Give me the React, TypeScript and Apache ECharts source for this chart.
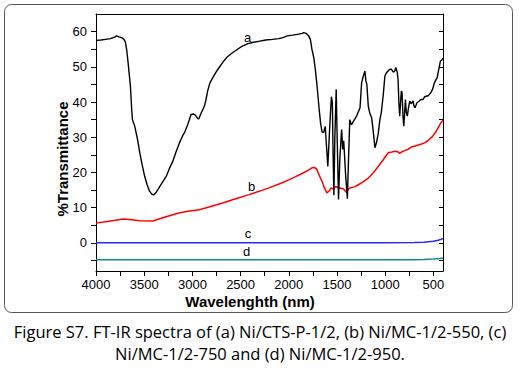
import React, { useEffect, useRef } from "react";
import * as echarts from "echarts";

// wavenumber (cm-1) / %Transmittance pairs
const curveA: [number, number][] = [
  [4000, 57.5], [3950, 57.6], [3900, 57.8], [3850, 58.0], [3800, 58.5], [3787, 58.8], [3760, 58.5],
  [3730, 58.2], [3710, 57.8], [3695, 57.0], [3680, 54.5], [3667, 51.2], [3643, 44.5], [3630, 38.0],
  [3622, 35.0], [3598, 33.1], [3570, 29.5], [3546, 25.6], [3520, 22.0], [3495, 18.9], [3470, 16.5],
  [3443, 14.6], [3420, 13.8], [3402, 13.6], [3380, 14.2], [3358, 15.1], [3320, 16.8], [3271, 18.9],
  [3240, 21.0], [3203, 23.2], [3170, 25.8], [3134, 28.4], [3100, 30.5], [3082, 31.3], [3048, 33.6],
  [3013, 36.5], [2990, 36.6], [2969, 36.3], [2945, 35.3], [2934, 35.2], [2910, 36.8], [2876, 38.8],
  [2860, 40.5], [2842, 43.1], [2820, 45.3], [2807, 46.0], [2760, 48.3], [2722, 49.8], [2687, 51.2],
  [2640, 52.8], [2584, 54.0], [2530, 55.0], [2481, 55.9], [2430, 56.5], [2378, 56.9], [2300, 57.3],
  [2240, 57.6], [2170, 57.8], [2103, 58.0], [2060, 58.3], [2017, 58.8], [1960, 59.0], [1897, 59.3],
  [1860, 59.5], [1845, 59.7], [1820, 59.5], [1794, 58.8], [1776, 57.8], [1760, 55.0], [1740, 52.5],
  [1725, 49.3], [1710, 45.5], [1698, 42.0], [1685, 38.0], [1670, 34.0], [1655, 31.5], [1639, 31.3],
  [1622, 33.1], [1595, 21.7], [1575, 33.0], [1558, 41.5], [1548, 40.0], [1540, 25.0], [1532, 13.5],
  [1522, 30.0], [1508, 43.6], [1498, 30.0], [1484, 12.3], [1470, 24.0], [1452, 32.2], [1440, 26.5],
  [1430, 29.0], [1412, 20.0], [1392, 12.5], [1380, 24.0], [1367, 35.0], [1350, 33.5], [1330, 34.5],
  [1296, 36.0], [1261, 38.4], [1244, 45.5], [1225, 47.5], [1210, 48.8], [1200, 46.0], [1190, 45.0],
  [1175, 38.8], [1160, 36.9], [1140, 35.5], [1125, 32.0], [1106, 27.0], [1090, 28.5], [1072, 31.0],
  [1055, 35.0], [1040, 37.0], [1020, 42.0], [1003, 47.4], [986, 48.3], [970, 48.8], [952, 49.3],
  [935, 49.3], [915, 48.5], [900, 48.8], [890, 49.8], [883, 49.8], [875, 48.5], [866, 46.4],
  [858, 40.0], [849, 36.0], [840, 40.0], [832, 43.1], [825, 42.6], [815, 36.0], [807, 33.1],
  [800, 36.0], [790, 40.7], [780, 36.9], [770, 36.0], [760, 38.0], [745, 40.3], [730, 39.5],
  [711, 40.3], [700, 38.8], [690, 38.4], [670, 39.8], [650, 40.2], [630, 40.7], [608, 40.7],
  [590, 41.5], [573, 41.7], [557, 41.7], [530, 42.5], [510, 43.5], [488, 45.5], [460, 47.0],
  [437, 50.2], [427, 51.6], [410, 52.0], [400, 52.5],
];

const curveB: [number, number][] = [
  [4000, 5.6], [3900, 6.0], [3800, 6.4], [3718, 6.75], [3650, 6.6], [3550, 6.3], [3409, 6.2],
  [3300, 7.2], [3150, 8.4], [3050, 9.0], [2928, 9.4], [2800, 10.4], [2687, 11.3], [2550, 12.5],
  [2412, 13.7], [2300, 14.7], [2206, 15.6], [2100, 16.7], [2000, 17.9], [1930, 18.8], [1862, 19.7],
  [1800, 20.6], [1760, 21.3], [1730, 21.4], [1708, 20.8], [1690, 19.5], [1656, 17.5], [1630, 15.6],
  [1605, 14.2], [1580, 14.8], [1560, 15.6], [1535, 15.3], [1515, 16.0], [1490, 15.7], [1460, 15.5],
  [1430, 15.3], [1410, 14.6], [1399, 14.3], [1380, 15.3], [1365, 15.6], [1320, 15.9], [1278, 16.5],
  [1230, 17.3], [1175, 18.4], [1120, 20.0], [1072, 21.7], [1020, 23.6], [969, 25.6], [930, 25.8],
  [900, 26.0], [870, 25.9], [849, 25.4], [830, 25.8], [800, 26.2], [760, 26.6], [729, 27.2],
  [680, 27.6], [630, 28.0], [591, 28.4], [550, 29.2], [506, 30.3], [470, 31.7], [440, 33.2],
  [427, 33.9], [400, 34.8],
];

const curveC: [number, number][] = [
  [4000, 0.05], [3000, 0.05], [2000, 0.05], [1000, 0.05], [700, 0.08], [600, 0.15], [500, 0.45],
  [450, 0.75], [420, 1.0], [400, 1.2],
];

const curveD: [number, number][] = [
  [4000, -4.8], [3000, -4.8], [2000, -4.8], [1000, -4.8], [700, -4.78], [600, -4.75], [500, -4.6],
  [430, -4.45], [400, -4.3],
];

const xLabelValues = [500, 1000, 1500, 2000, 2500, 3000, 3500, 4000];
const xTickValues = [500, 750, 1000, 1250, 1500, 1750, 2000, 2250, 2500, 2750, 3000, 3250, 3500, 3750, 4000];
const yLabelValues = [0, 10, 20, 30, 40, 50, 60];
const yTickValues = [-5, 0, 5, 10, 15, 20, 25, 30, 35, 40, 45, 50, 55, 60];

const seriesNames = ["a", "b", "c", "d"];
const seriesColors = ["#000000", "#ff0000", "#2a2af0", "#138a8a"];

const captionLines = [
  "Figure S7. FT-IR spectra of (a) Ni/CTS-P-1/2, (b) Ni/MC-1/2-550, (c)",
  "Ni/MC-1/2-750 and (d) Ni/MC-1/2-950.",
];

const FONT = "'Liberation Sans', Arial, sans-serif";

export default function App() {
  const ref = useRef<HTMLDivElement>(null);
  useEffect(() => {
    if (!ref.current) return;
    const chart = echarts.init(ref.current, null, { renderer: "svg" });
    const axisCommon = {
      type: "value" as const,
      min: 400,
      max: 4000,
      inverse: true,
      splitLine: { show: false },
    };
    const yCommon = {
      type: "value" as const,
      min: -8,
      max: 65,
      splitLine: { show: false },
    };
    const datas = [curveA, curveB, curveC, curveD];
    chart.setOption({
      animation: false,
      backgroundColor: "#ffffff",
      grid: { left: 96, right: 77, top: 14, bottom: 100, containLabel: false },
      xAxis: [
        {
          ...axisCommon,
          position: "bottom",
          axisLine: { show: true, onZero: false, lineStyle: { color: "#000", width: 1 } },
          axisTick: { show: true, customValues: xTickValues, length: 5, lineStyle: { color: "#000" } },
          axisLabel: {
            show: true,
            customValues: xLabelValues,
            formatter: (v: number) => String(v),
            fontSize: 13,
            color: "#000",
            fontFamily: FONT,
            margin: 7,
          },
        },
        {
          ...axisCommon,
          position: "top",
          axisLine: { show: true, onZero: false, lineStyle: { color: "#000", width: 1 } },
          axisTick: { show: false },
          axisLabel: { show: false },
        },
      ],
      yAxis: [
        {
          ...yCommon,
          position: "left",
          axisLine: { show: true, onZero: false, lineStyle: { color: "#000", width: 1 } },
          axisTick: { show: true, customValues: yTickValues, length: 5, lineStyle: { color: "#000" } },
          axisLabel: {
            show: true,
            customValues: yLabelValues,
            formatter: (v: number) => String(v),
            fontSize: 13,
            color: "#000",
            fontFamily: FONT,
            margin: 9,
          },
        },
        {
          ...yCommon,
          position: "right",
          axisLine: { show: true, onZero: false, lineStyle: { color: "#000", width: 1 } },
          axisTick: { show: true, inside: true, customValues: yTickValues, length: 4, lineStyle: { color: "#000" } },
          axisLabel: { show: false },
        },
      ],
      series: datas.map((d, i) => ({
        name: seriesNames[i],
        type: "line",
        xAxisIndex: 0,
        yAxisIndex: 0,
        data: d,
        showSymbol: false,
        symbol: "none",
        smooth: false,
        lineStyle: { color: seriesColors[i], width: i === 0 ? 1.4 : 1.5 },
        z: 4 - i,
      })),
      graphic: [
        {
          type: "rect",
          shape: { x: 4.5, y: 4.5, width: 508, height: 308, r: 7 },
          style: { fill: "none", stroke: "#555", lineWidth: 1 },
          silent: true,
          z: -1,
        },
        {
          type: "text",
          x: 62,
          y: 159,
          rotation: Math.PI / 2,
          style: {
            text: "%Transmittance",
            font: `bold 15px ${FONT}`,
            fill: "#000",
            align: "center",
            verticalAlign: "middle",
          },
        },
        {
          type: "text",
          x: 250,
          y: 301,
          style: {
            text: "Wavelenghth (nm)",
            font: `bold 15px ${FONT}`,
            fill: "#000",
            align: "center",
            verticalAlign: "middle",
          },
        },
        { type: "text", x: 247.5, y: 37, style: { text: seriesNames[0], font: `13px ${FONT}`, fill: "#000", align: "center", verticalAlign: "middle" } },
        { type: "text", x: 251.5, y: 186, style: { text: seriesNames[1], font: `13px ${FONT}`, fill: "#000", align: "center", verticalAlign: "middle" } },
        { type: "text", x: 248, y: 233, style: { text: seriesNames[2], font: `13px ${FONT}`, fill: "#000", align: "center", verticalAlign: "middle" } },
        { type: "text", x: 246.5, y: 251, style: { text: seriesNames[3], font: `13px ${FONT}`, fill: "#000", align: "center", verticalAlign: "middle" } },
        {
          type: "text",
          x: 260,
          y: 331,
          style: { text: captionLines[0], font: `16.5px 'Open Sans', sans-serif`, fill: "#000", align: "center", verticalAlign: "middle" },
        },
        {
          type: "text",
          x: 260,
          y: 353,
          style: { text: captionLines[1], font: `16.5px 'Open Sans', sans-serif`, fill: "#000", align: "center", verticalAlign: "middle" },
        },
      ],
    });
    return () => chart.dispose();
  }, []);
  return (
    <div
      ref={ref}
      style={{ position: "fixed", left: 0, top: 0, width: 520, height: 371, background: "#fff" }}
    />
  );
}
